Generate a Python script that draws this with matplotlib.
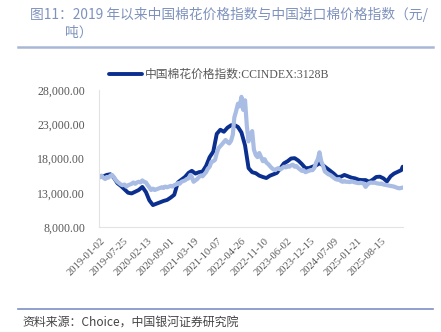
import pandas as pd
import matplotlib.pyplot as plt
from matplotlib.lines import Line2D

plt.rcParams['font.family'] = ['Liberation Serif', 'Noto Sans CJK SC']

# 中国棉花价格指数 CCINDEX 3128B, monthly (thousand yuan/ton), 2019-01 .. 2026-02, plus last day
cc_vals = [
    15.3, 15.4, 15.6, 15.7, 15.2, 14.4, 14.0, 13.5, 13.0, 12.9, 13.15, 13.4,
    13.85, 13.1, 11.9, 11.2, 11.4, 11.6, 11.8, 11.95, 12.3, 12.7, 14.5, 14.9,
    15.3, 15.9, 16.2, 15.8, 16.0, 16.1, 16.9, 18.2, 19.0, 21.6, 22.2, 21.9,
    22.5, 22.85, 22.9, 22.6, 21.8, 19.9, 16.6, 16.0, 15.85, 15.5, 15.3, 15.15,
    15.5, 15.7, 15.9, 16.6, 17.3, 17.6, 18.0, 18.05, 17.7, 17.2, 16.6, 16.6,
    16.8, 17.0, 17.3, 17.0, 16.6, 16.2, 15.8, 15.3, 15.35, 15.6, 15.4, 15.2,
    15.1, 14.9, 14.85, 14.85, 14.6, 14.9, 15.3, 15.35, 15.1, 14.65, 15.4, 15.8,
    16.05, 16.3, 16.8,
]

# 中国进口棉价格指数, semi-monthly (1st and 16th), same span
imp_vals = [
    15.3, 15.5, 15.2, 15.0, 15.3, 15.2, 15.5, 15.6, 15.3, 14.9, 14.6, 14.4,
    14.2, 14.1, 14.2, 13.9, 14.1, 14.2, 14.3, 14.5, 14.3, 14.5, 14.6, 14.5,
    14.8, 14.6, 14.5, 14.1, 13.8, 13.4, 13.6, 13.4, 13.5, 13.6, 13.7, 13.8,
    13.7, 13.9, 13.8, 13.9, 14.0, 13.9, 14.1, 14.2, 14.4, 14.3, 14.6, 14.7,
    14.8, 15.0, 15.1, 15.6, 15.3, 14.6, 14.8, 15.0, 15.3, 15.5, 15.4, 15.7,
    16.0, 16.5, 16.8, 17.5, 17.6, 17.8, 18.8, 19.5, 19.8, 20.1, 20.4, 20.7,
    20.4, 20.2, 20.6, 21.5, 24.0, 24.9, 26.0, 25.6, 27.0, 25.1, 26.5, 22.8,
    20.5, 21.4, 22.0, 19.3, 18.5, 18.2, 18.8, 18.2, 17.6, 17.9, 17.4, 17.2,
    16.9, 16.6, 16.4, 16.3, 16.5, 16.6, 16.4, 16.6, 16.8, 16.7, 16.9, 16.8,
    17.0, 17.1, 16.8, 16.9, 16.6, 16.4, 16.2, 16.3, 16.0, 16.1, 16.2, 16.3,
    16.3, 16.6, 17.4, 17.9, 18.9, 17.6, 16.9, 16.1, 15.9, 15.7, 15.6, 15.4,
    15.2, 15.0, 14.9, 15.0, 14.7, 14.6, 14.7, 14.6, 14.6, 14.55, 14.65, 14.6,
    14.5, 14.45, 14.4, 14.45, 14.4, 14.35, 13.85, 14.2, 14.4, 14.5, 14.45, 14.5,
    14.4, 14.35, 14.3, 14.35, 14.2, 14.15, 14.1, 14.05, 14.0, 13.95, 13.9, 13.8,
    13.7, 13.65, 13.7, 13.75,
]

tick_labels = ['2019-01-02', '2019-07-25', '2020-02-13', '2020-09-01', '2021-03-19',
               '2021-10-07', '2022-04-26', '2022-11-10', '2023-06-02', '2023-12-15',
               '2024-07-09', '2025-01-21', '2025-08-15']

end_day = pd.Timestamp('2026-02-13')
months = pd.date_range('2019-01-01', '2026-02-01', freq='MS')
cc_dates = list(months) + [end_day]
cc_dates[0] = pd.Timestamp('2019-01-02')
imp_dates = []
for m in months:
    imp_dates.append(m)
    if m < months[-1]:
        imp_dates.append(m + pd.Timedelta(days=15))
imp_dates.append(end_day)
imp_dates[0] = pd.Timestamp('2019-01-02')

dark = '#0b2f8f'
light = '#a8bce4'
grey = '#595959'

fig = plt.figure(figsize=(4.41, 3.32), dpi=100)
ax = fig.add_axes([99 / 441, 1 - 227 / 332, 304 / 441, 137 / 332])

ax.plot(cc_dates, [v * 1000 for v in cc_vals], color=dark, lw=2.8,
        label='中国棉花价格指数:CCINDEX:3128B', solid_capstyle='round')
ax.plot(imp_dates, [v * 1000 for v in imp_vals], color=light, lw=3.0,
        solid_joinstyle='round')

ax.set_ylim(8000, 28000)
ax.set_yticks([8000, 13000, 18000, 23000, 28000])
ax.yaxis.set_major_formatter(plt.FuncFormatter(lambda v, p: f'{v:,.2f}'))
ax.set_xlim(pd.Timestamp('2018-12-25'), pd.Timestamp('2026-02-16'))
ax.set_xticks([pd.Timestamp(t) for t in tick_labels])
ax.set_xticklabels(tick_labels, rotation=45, ha='right', rotation_mode='anchor')

ax.tick_params(axis='y', length=0, pad=10, labelsize=8.6, labelcolor=grey)
ax.tick_params(axis='x', length=0, pad=7, labelsize=7.6, labelcolor=grey)
for s in ['top', 'right']:
    ax.spines[s].set_visible(False)
ax.spines['left'].set_color('#e3e3e3')
ax.spines['bottom'].set_color('#e3e3e3')

leg = ax.legend(loc='center left', bbox_to_anchor=(0.022, 1.11), frameon=False,
                fontsize=8.5, handlelength=2.8, handletextpad=0.2, borderpad=0,
                borderaxespad=0.3)
for t in leg.get_texts():
    t.set_color(grey)

title_color = '#7f92bd'
fig.text(30 / 441, 1 - 14 / 332, '图11：2019 年以来中国棉花价格指数与中国进口棉价格指数（元/',
         fontsize=9.9, color=title_color, va='center', family=['Noto Sans CJK SC', 'DejaVu Sans'])
fig.text(65 / 441, 1 - 33 / 332, '吨）', fontsize=9.9, color=title_color, va='center',
         family=['Noto Sans CJK SC', 'DejaVu Sans'])
fig.add_artist(Line2D([18 / 441, 433 / 441], [1 - 47 / 332, 1 - 47 / 332],
                      color='#a9b7d6', lw=1.8))
fig.add_artist(Line2D([18 / 441, 433 / 441], [1 - 309 / 332, 1 - 309 / 332],
                      color='#7d90c6', lw=1.2))
fig.text(22 / 441, 1 - 322 / 332, '资料来源：Choice，中国银河证券研究院', fontsize=8.6,
         color='#444444', va='center', style='italic',
         family=['Noto Sans CJK SC', 'DejaVu Sans'])

fig.savefig('out.png', dpi=100)
